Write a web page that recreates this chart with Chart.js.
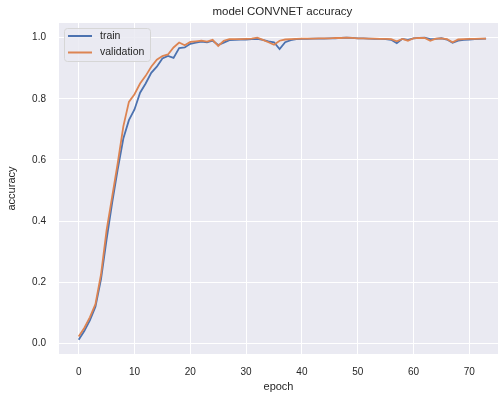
<!DOCTYPE html>
<html>
<head>
<meta charset="utf-8">
<script src="https://cdn.jsdelivr.net/npm/chart.js@4"></script>
<style>
  html, body { margin: 0; padding: 0; background: #fff; overflow: hidden; }
</style>
</head>
<body>
<canvas id="accChart" width="498" height="396"></canvas>
<script>
// du lieu doc tu hinh
const epochs = [0, 1, 2, 3, 4, 5, 6, 7, 8, 9, 10, 11, 12, 13, 14, 15, 16, 17, 18, 19,
  20, 21, 22, 23, 24, 25, 26, 27, 28, 29, 30, 31, 32, 33, 34, 35, 36, 37, 38, 39,
  40, 41, 42, 43, 44, 45, 46, 47, 48, 49, 50, 51, 52, 53, 54, 55, 56, 57, 58, 59,
  60, 61, 62, 63, 64, 65, 66, 67, 68, 69, 70, 71, 72, 73];

const trainAcc = [0.012, 0.04, 0.075, 0.12, 0.21, 0.34, 0.46, 0.57, 0.67, 0.73,
  0.765, 0.82, 0.85, 0.885, 0.905, 0.932, 0.94, 0.934, 0.966, 0.968,
  0.98, 0.984, 0.987, 0.985, 0.99, 0.976, 0.984, 0.992, 0.993, 0.994,
  0.994, 0.995, 0.996, 0.993, 0.988, 0.985, 0.963, 0.985, 0.992, 0.995,
  0.996, 0.996, 0.997, 0.997, 0.997, 0.998, 0.998, 0.999, 1.0, 0.999,
  0.998, 0.998, 0.997, 0.996, 0.996, 0.995, 0.993, 0.982, 0.996, 0.993,
  0.998, 0.999, 1.0, 0.995, 0.996, 0.998, 0.994, 0.983, 0.99, 0.993,
  0.994, 0.995, 0.996, 0.997];

const valAcc = [0.022, 0.05, 0.085, 0.128, 0.225, 0.37, 0.48, 0.59, 0.71, 0.79,
  0.815, 0.85, 0.875, 0.905, 0.928, 0.94, 0.945, 0.968, 0.984, 0.975,
  0.986, 0.988, 0.99, 0.987, 0.993, 0.973, 0.99, 0.995, 0.995, 0.995,
  0.996, 0.997, 1.0, 0.993, 0.985, 0.977, 0.99, 0.994, 0.995, 0.996,
  0.997, 0.997, 0.997, 0.998, 0.998, 0.998, 0.999, 0.999, 1.0, 0.999,
  0.998, 0.998, 0.997, 0.997, 0.996, 0.996, 0.995, 0.988, 0.996, 0.99,
  0.998, 0.999, 0.999, 0.99, 0.997, 0.998, 0.995, 0.985, 0.994, 0.995,
  0.996, 0.996, 0.997, 0.997];

const xTicks = [0, 10, 20, 30, 40, 50, 60, 70];
const yTicks = [0.0, 0.2, 0.4, 0.6, 0.8, 1.0];

const FONT = '"Liberation Sans", Arial, sans-serif';
const TEXT_COLOR = "#262626";
const BLUE = "#4C72B0";
const ORANGE = "#DD8452";

// tieu de + legend ve bang plugin
const titlePlugin = {
  id: "plotTitle",
  afterDraw(chart) {
    const ctx = chart.ctx;
    const xs = chart.scales.x;
    ctx.save();
    ctx.font = "11.5px " + FONT;
    ctx.fillStyle = TEXT_COLOR;
    ctx.textAlign = "center";
    ctx.textBaseline = "middle";
    ctx.fillText("model CONVNET accuracy", xs.getPixelForValue(36.5), 12);
    ctx.restore();
  }
};

const legendPlugin = {
  id: "boxLegend",
  afterDraw(chart) {
    const ctx = chart.ctx;
    const a = chart.chartArea;
    const x0 = a.left + 5, y0 = a.top + 5, w = 86, h = 33;
    ctx.save();
    ctx.fillStyle = "rgba(234,234,242,0.85)";
    ctx.strokeStyle = "#d6d6d6";
    ctx.lineWidth = 1;
    ctx.beginPath();
    ctx.roundRect(x0 + 0.5, y0 + 0.5, w, h, 3);
    ctx.fill();
    ctx.stroke();
    const items = [["train", BLUE], ["validation", ORANGE]];
    ctx.font = "10.5px " + FONT;
    ctx.textBaseline = "middle";
    items.forEach((it, i) => {
      const yy = y0 + 8 + i * 16.5;
      ctx.strokeStyle = it[1];
      ctx.lineWidth = 2;
      ctx.beginPath();
      ctx.moveTo(x0 + 4, yy);
      ctx.lineTo(x0 + 28, yy);
      ctx.stroke();
      ctx.fillStyle = TEXT_COLOR;
      ctx.fillText(it[0], x0 + 36, yy);
    });
    ctx.restore();
  }
};

const bgPlugin = {
  id: "plotBg",
  beforeDraw(chart) {
    const a = chart.chartArea;
    const ctx = chart.ctx;
    ctx.save();
    ctx.fillStyle = "#ffffff";
    ctx.fillRect(0, 0, chart.width, chart.height);
    ctx.fillStyle = "#EAEAF2";
    ctx.fillRect(a.left, a.top, a.right - a.left, a.bottom - a.top);
    ctx.restore();
  }
};

const ctx = document.getElementById("accChart").getContext("2d");
const accChart = new Chart(ctx, {
  type: "line",
  data: {
    datasets: [
      {
        label: "train",
        data: epochs.map((e, i) => ({ x: e, y: trainAcc[i] })),
        borderColor: BLUE,
        borderWidth: 1.8,
        pointRadius: 0,
        tension: 0,
        fill: false,
        order: 2,
      },
      {
        label: "validation",
        data: epochs.map((e, i) => ({ x: e, y: valAcc[i] })),
        borderColor: ORANGE,
        borderWidth: 1.8,
        pointRadius: 0,
        tension: 0,
        fill: false,
        order: 1,
      },
    ],
  },
  options: {
    responsive: false,
    animation: false,
    devicePixelRatio: 1,
    layout: { padding: { top: 23, right: 0, left: 0, bottom: 0 } },
    plugins: {
      legend: { display: false },
      title: { display: false },
      tooltip: { enabled: false },
    },
    scales: {
      x: {
        type: "linear",
        min: -3.53,
        max: 75.14,
        border: { display: false },
        grid: { color: "#ffffff", lineWidth: 1, drawTicks: false },
        afterBuildTicks: s => { s.ticks = xTicks.map(v => ({ value: v })); },
        afterFit: s => { s.height = 42; },
        ticks: {
          padding: 12,
          color: TEXT_COLOR,
          font: { family: FONT, size: 10 },
          callback: v => String(v),
        },
        title: {
          display: true,
          text: "epoch",
          color: TEXT_COLOR,
          font: { family: FONT, size: 11 },
          padding: { top: 0, bottom: 2 },
        },
      },
      y: {
        type: "linear",
        min: -0.035,
        max: 1.048,
        border: { display: false },
        grid: { color: "#ffffff", lineWidth: 1, drawTicks: false },
        afterBuildTicks: s => { s.ticks = yTicks.map(v => ({ value: v })); },
        afterFit: s => { s.width = 59; },
        ticks: {
          padding: 13,
          color: TEXT_COLOR,
          font: { family: FONT, size: 10 },
          callback: v => Number(v).toFixed(1),
        },
        title: {
          display: true,
          text: "accuracy",
          color: TEXT_COLOR,
          font: { family: FONT, size: 11 },
          padding: { top: 5, bottom: 0 },
        },
      },
    },
  },
  plugins: [bgPlugin, titlePlugin, legendPlugin],
});
</script>
</body>
</html>
